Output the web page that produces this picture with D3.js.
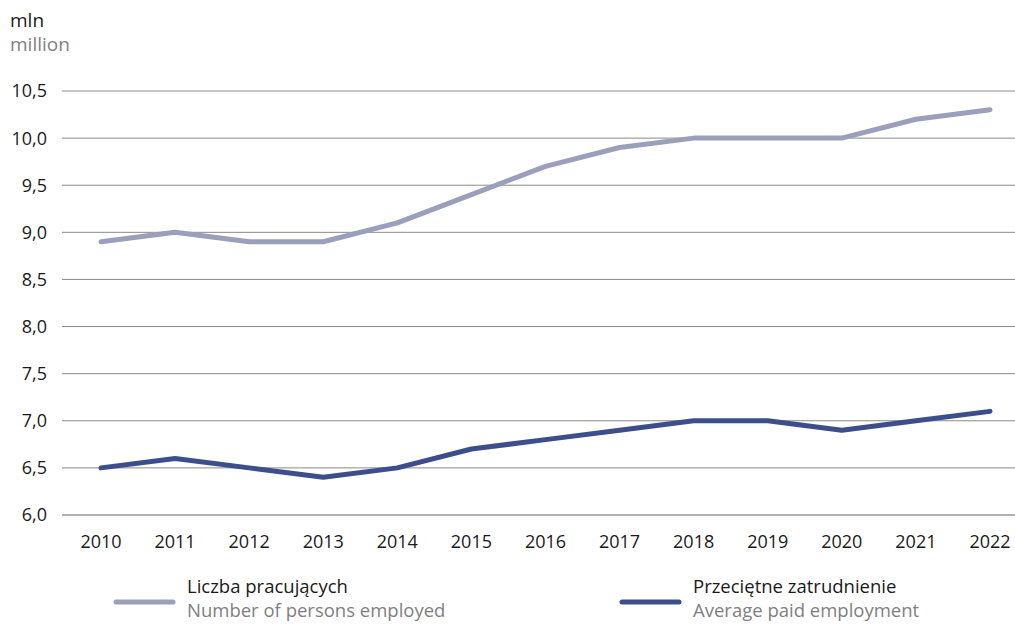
<!DOCTYPE html>
<html><head><meta charset="utf-8">
<script src="https://cdn.jsdelivr.net/npm/d3@7"></script>
<style>body{margin:0;background:#fff;} text{font-family:"Open Sans","Noto Sans",sans-serif;}</style>
</head><body>
<svg id="c" width="1015" height="624"></svg>
<script>
const years = [2010,2011,2012,2013,2014,2015,2016,2017,2018,2019,2020,2021,2022];
const employed = [8.9,9.0,8.9,8.9,9.1,9.4,9.7,9.9,10.0,10.0,10.0,10.2,10.3];
const paid = [6.5,6.6,6.5,6.4,6.5,6.7,6.8,6.9,7.0,7.0,6.9,7.0,7.1];
const yTicks = [6.0,6.5,7.0,7.5,8.0,8.5,9.0,9.5,10.0,10.5];
const seriesNames = [["Liczba pracujących","Number of persons employed"],["Przeciętne zatrudnienie","Average paid employment"]];
const colors = ["#9a9fbc","#3d4e8c"];

const svg = d3.select("#c");
const x = d3.scalePoint().domain(years).range([101,990]);
const y = d3.scaleLinear().domain([6,10.5]).range([515,91]);

const grid = svg.append("g");
yTicks.forEach(t=>{
  grid.append("line").attr("x1",62).attr("x2",1015).attr("y1",y(t)).attr("y2",y(t))
    .attr("stroke", t===6 ? "#b0b0b0" : "#8a8a8a").attr("stroke-width", t===6?2:1);
  grid.append("text").attr("x",47).attr("y",y(t)).attr("dy","0.36em").attr("text-anchor","end")
    .attr("font-size",18).attr("fill","#1a1a1a").text(d3.format(".1f")(t).replace(".",","));
});
years.forEach(yr=>{
  svg.append("text").attr("x",x(yr)).attr("y",548).attr("text-anchor","middle")
    .attr("font-size",18).attr("fill","#1a1a1a").text(yr);
});
svg.append("text").attr("x",10).attr("y",27).attr("font-size",19).attr("fill","#1a1a1a").text("mln");
svg.append("text").attr("x",10).attr("y",51).attr("font-size",19).attr("fill","#7f7f7f").text("million");

const line = d3.line().x((d,i)=>x(years[i])).y(d=>y(d));
[employed,paid].forEach((s,k)=>{
  svg.append("path").attr("d",line(s)).attr("fill","none").attr("stroke",colors[k])
    .attr("stroke-width",5).attr("stroke-linecap","round").attr("stroke-linejoin","round");
});

const lx = [116,622];
seriesNames.forEach((n,k)=>{
  svg.append("line").attr("x1",lx[k]).attr("x2",lx[k]+57).attr("y1",602).attr("y2",602)
    .attr("stroke",colors[k]).attr("stroke-width",5).attr("stroke-linecap","round");
  svg.append("text").attr("x",lx[k]+71).attr("y",593).attr("font-size",18.5).attr("fill","#1a1a1a").text(n[0]);
  svg.append("text").attr("x",lx[k]+71).attr("y",617).attr("font-size",18.5).attr("fill","#7f7f7f").text(n[1]);
});
</script>
</body></html>
